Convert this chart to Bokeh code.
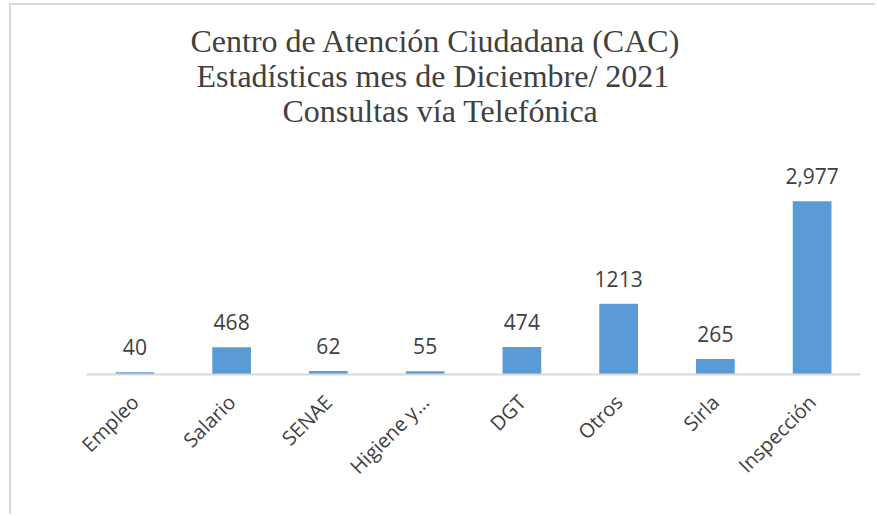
import math
from bokeh.plotting import figure
from bokeh.models import ColumnDataSource, Range1d, FactorRange, Title
from bokeh.core.properties import value
from bokeh.embed import file_html
from bokeh.resources import INLINE

categories = ["Empleo", "Salario", "SENAE", "Higiene y…", "DGT", "Otros", "Sirla", "Inspección"]
consultas = [40, 468, 62, 55, 474, 1213, 265, 2977]
etiquetas = ["40", "468", "62", "55", "474", "1213", "265", "2,977"]
title_lines = ["Centro de Atención Ciudadana (CAC)",
               "Estadísticas mes de Diciembre/ 2021",
               "Consultas vía Telefónica"]

source = ColumnDataSource(dict(cat=categories, val=consultas, lab=etiquetas))

p = figure(x_range=FactorRange(*categories, range_padding=0),
           y_range=Range1d(0, 4242),
           width=866, height=511, output_backend="svg", toolbar_location=None,
           min_border_left=75, min_border_right=17, min_border_bottom=142, min_border_top=122)

title_offsets = [104, 110, 196]
title_standoffs = [-2.9, -2.9, -2.9]


def style_title(t, i):
    t.align = "left"
    t.offset = title_offsets[i]
    t.standoff = title_standoffs[i]
    t.text_font = "Liberation Serif"
    t.text_font_size = "32px"
    t.text_font_style = "normal"
    t.text_color = "#404040"


# the figure title is drawn outermost; extra titles stack from the frame upward
p.title.text = title_lines[0]
style_title(p.title, 0)
for i in (2, 1):
    t = Title(text=title_lines[i])
    style_title(t, i)
    p.add_layout(t, "above")

p.vbar(x="cat", top="val", width=0.4, source=source, fill_color="#5B9BD5", line_color=None)
p.text(x="cat", y="val", text="lab", source=source, text_align="center", text_baseline="alphabetic",
       y_offset=-25, text_font=value("Open Sans"), text_font_size="21px", text_color="#404040")

p.yaxis.visible = False
p.xgrid.visible = False
p.ygrid.visible = False
p.outline_line_color = None
p.xaxis.axis_line_color = "#D9D9D9"
p.xaxis.axis_line_width = 2
p.xaxis.major_tick_line_color = None
p.xaxis.minor_tick_line_color = None
p.xaxis.major_label_orientation = math.pi / 4
p.xaxis.major_label_text_font = "Open Sans"
p.xaxis.major_label_text_font_size = "20px"
p.xaxis.major_label_text_color = "#404040"
p.xaxis.major_label_standoff = 18
p.styles = {"margin-left": "9px", "margin-top": "3px",
            "border-left": "2px solid #D9D9D9", "border-top": "2px solid #D9D9D9"}

open("out.html", "w").write(file_html(p, INLINE))
